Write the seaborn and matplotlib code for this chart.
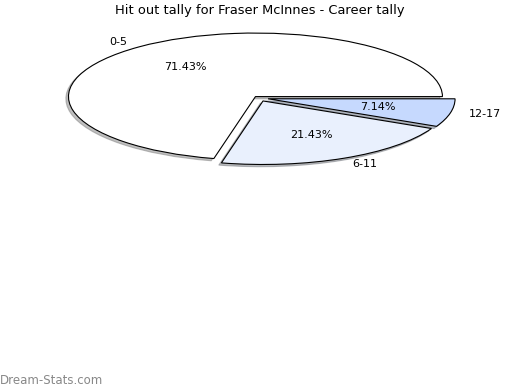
import matplotlib
matplotlib.use("Agg")
import matplotlib.pyplot as plt
import seaborn as sns

sns.set_theme(style="white")
plt.rcParams['font.family'] = ['DejaVu Sans']

categories = ["0-5", "6-11", "12-17"]
counts = [10, 3, 1]
colors = ["#ffffff", "#e9f0fd", "#c6d9fe"]
explode = [0.03, 0.05, 0.05]

fig = plt.figure(figsize=(5.2, 3.9), dpi=100)
fig.patch.set_facecolor("white")
ax = fig.add_axes([0.0665, 0.553, 0.863, 0.391])
wedges, texts, autotexts = ax.pie(
    counts, labels=categories, colors=colors, explode=explode,
    startangle=0, counterclock=True, autopct="%.2f%%",
    pctdistance=0.6, labeldistance=1.1,
    shadow={"ox": -0.01, "oy": -0.025, "shade": 0.5},
    wedgeprops={"edgecolor": "black", "linewidth": 0.8},
    textprops={"fontsize": 8, "color": "black"},
)
ax.set_aspect("auto")
ax.set_xlim(-1.2, 1.2)
ax.set_ylim(-1.2, 1.2)
ax.axis("off")

fig.text(0.5, 0.972, "Hit out tally for Fraser McInnes - Career tally",
         ha="center", va="center", fontsize=9.4, color="black")
fig.text(0.0, 0.025, "Dream-Stats.com", ha="left", va="center",
         fontsize=8.5, color="#888888")

fig.savefig("out.png", dpi=100)
